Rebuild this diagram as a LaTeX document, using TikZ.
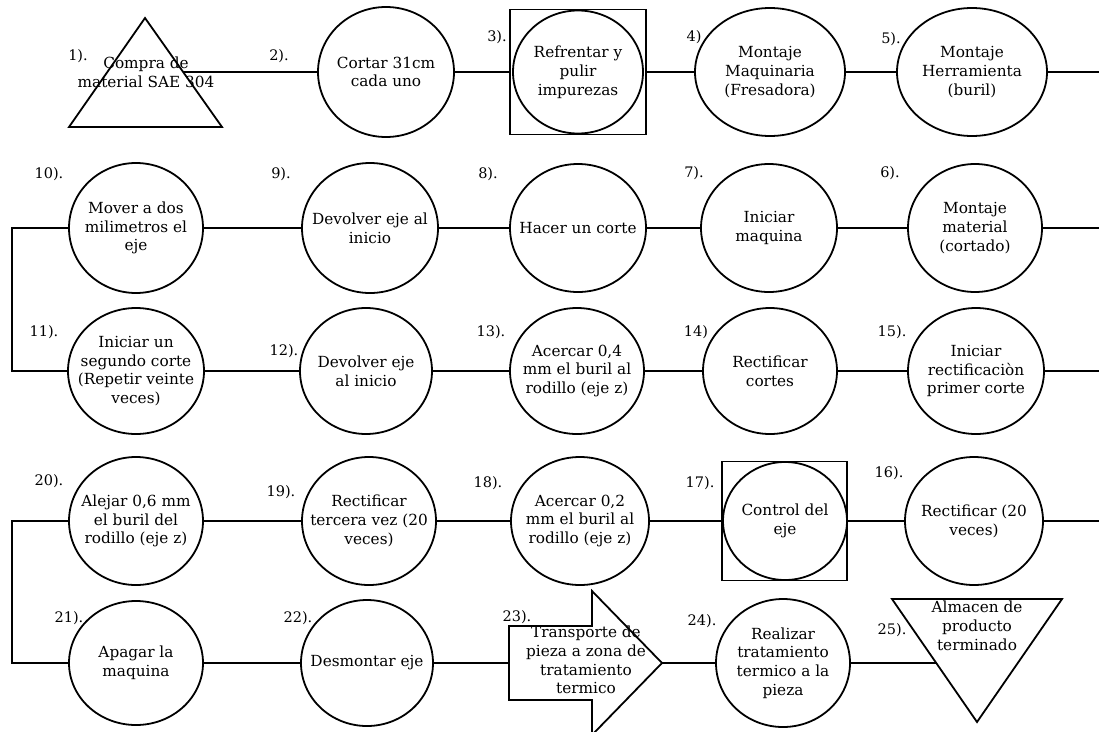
\documentclass[tikz,border=0pt]{standalone}
\usepackage{fontspec}
\setmainfont{DejaVu Serif}
\usetikzlibrary{shapes.geometric}
\tikzset{
  shp/.style={draw, line width=1.8pt, ellipse, inner sep=0pt},
  boxsq/.style={draw, line width=1.8pt, rectangle, inner sep=0pt},
  txt/.style={align=center, font=\fontsize{15.3}{18.8}\selectfont, inner sep=0pt},
  lbl/.style={font=\fontsize{14.5}{17}\selectfont, inner sep=0pt},
  con/.style={line width=1.8pt},
  fig/.style={line width=1.8pt, line join=miter}
}
\newcommand\procnode[5]{%
  \node[shp, minimum width=#3, minimum height=#4] (#1) at (#2) {};
  \node[txt] (#1t) at (#1) {#5};}
\begin{document}
\begin{tikzpicture}[x=1pt,y=-1pt]
\useasboundingbox (0,0) rectangle (1099,731);
% ---------- row 1 ----------
\draw[fig] (145,18) -- (222,127) -- (69,127) -- cycle;
\coordinate (t1r) at (183,72);
\node[txt] (t1t) at (146,72) {Compra de\\material SAE 304};
\procnode{c2}{386,72}{136}{130}{Cortar 31cm\\cada uno}
\node[boxsq, minimum width=136, minimum height=125] (s3) at (578,72) {};
\procnode{c3}{578,72}{130}{123}{Refrentar y\\pulir\\impurezas}
\procnode{c4}{770,72}{150}{128}{Montaje\\Maquinaria\\(Fresadora)}
\procnode{c5}{972,72}{150}{128}{Montaje\\Herramienta\\(buril)}
\coordinate (e1) at (1099,72);
\draw[con] (t1r) -- (c2.west);
\draw[con] (c2.east) -- (s3.west);
\draw[con] (s3.east) -- (c4.west);
\draw[con] (c4.east) -- (c5.west);
\draw[con] (c5.east) -- (e1);
\node[lbl] (l1) at (78,56) {1).};
\node[lbl] (l2) at (279,56) {2).};
\node[lbl] (l3) at (497,37) {3).};
\node[lbl] (l4) at (694,37) {4)};
\node[lbl] (l5) at (891,39) {5).};
% ---------- row 2 ----------
\procnode{c10}{136,228}{134}{130}{Mover a dos\\milimetros el\\eje}
\procnode{c9}{370,228}{136}{130}{Devolver eje al\\inicio}
\procnode{c8}{578,228}{136}{128}{Hacer un corte}
\procnode{c7}{769,228}{136}{128}{Iniciar\\maquina}
\procnode{c6}{975,228}{134}{128}{Montaje\\material\\(cortado)}
\coordinate (e2) at (1099,228);
\draw[con] (e2) -- (c6.east);
\draw[con] (c6.west) -- (c7.east);
\draw[con] (c7.west) -- (c8.east);
\draw[con] (c8.west) -- (c9.east);
\draw[con] (c9.west) -- (c10.east);
\node[lbl] (l10) at (49,174) {10).};
\node[lbl] (l9) at (281,174) {9).};
\node[lbl] (l8) at (488,174) {8).};
\node[lbl] (l7) at (694,173) {7).};
\node[lbl] (l6) at (890,173) {6).};
% ---------- row 3 ----------
\procnode{c11}{136,371}{136}{126}{Iniciar un\\segundo corte\\(Repetir veinte\\veces)}
\procnode{c12}{366,371}{132}{126}{Devolver eje\\al inicio}
\procnode{c13}{577,371}{134}{126}{Acercar 0,4\\mm el buril al\\rodillo (eje z)}
\procnode{c14}{770,371}{134}{126}{Rectificar\\cortes}
\procnode{c15}{976,371}{136}{126}{Iniciar\\rectificaciòn\\primer corte}
\coordinate (k1) at (12,228);
\coordinate (k2) at (12,371);
\draw[con] (c10.west) -- (k1) -- (k2) -- (c11.west);
\coordinate (e3) at (1099,371);
\draw[con] (c11.east) -- (c12.west);
\draw[con] (c12.east) -- (c13.west);
\draw[con] (c13.east) -- (c14.west);
\draw[con] (c14.east) -- (c15.west);
\draw[con] (c15.east) -- (e3);
\node[lbl] (l11) at (44,332) {11).};
\node[lbl] (l12) at (284,351) {12).};
\node[lbl] (l13) at (491,332) {13).};
\node[lbl] (l14) at (696,332) {14)};
\node[lbl] (l15) at (892,332) {15).};
% ---------- row 4 ----------
\procnode{c20}{136,521}{134}{128}{Alejar 0,6 mm\\el buril del\\rodillo (eje z)}
\procnode{c19}{369,521}{134}{128}{Rectificar\\tercera vez (20\\veces)}
\procnode{c18}{580,521}{138}{128}{Acercar 0,2\\mm el buril al\\rodillo (eje z)}
\node[boxsq, minimum width=125, minimum height=119] (s17) at (784.5,521) {};
\procnode{c17}{785,521}{124}{118}{Control del\\eje}
\procnode{c16}{974,521}{138}{128}{Rectificar (20\\veces)}
\coordinate (e4) at (1099,521);
\draw[con] (e4) -- (c16.east);
\draw[con] (c16.west) -- (s17.east);
\draw[con] (s17.west) -- (c18.east);
\draw[con] (c18.west) -- (c19.east);
\draw[con] (c19.west) -- (c20.east);
\node[lbl] (l20) at (49,481) {20).};
\node[lbl] (l19) at (281,492) {19).};
\node[lbl] (l18) at (488,483) {18).};
\node[lbl] (l17) at (700,483) {17).};
\node[lbl] (l16) at (889,473) {16).};
% ---------- row 5 ----------
\procnode{c21}{136,663}{134}{124}{Apagar la\\maquina}
\procnode{c22}{367,663}{132}{126}{Desmontar eje}
\coordinate (k3) at (12,521);
\coordinate (k4) at (12,663);
\draw[con] (c20.west) -- (k3) -- (k4) -- (c21.west);
\draw[fig] (509,626) -- (592,626) -- (592,591) -- (662,663) -- (592,735) -- (592,700) -- (509,700) -- cycle;
\coordinate (a23w) at (509,663);
\coordinate (a23e) at (662,663);
\node[txt] (a23t) at (586,660) {Transporte de\\pieza a zona de\\tratamiento\\termico};
\procnode{c24}{783,663}{134}{128}{Realizar\\tratamiento\\termico a la\\pieza}
\draw[fig] (892,599) -- (1062,599) -- (977,722) -- cycle;
\coordinate (t25l) at (937,663);
\node[txt] (t25t) at (977,626) {Almacen de\\producto\\terminado};
\draw[con] (c21.east) -- (c22.west);
\draw[con] (c22.east) -- (a23w);
\draw[con] (a23e) -- (c24.west);
\draw[con] (c24.east) -- (t25l);
\node[lbl] (l21) at (69,618) {21).};
\node[lbl] (l22) at (298,618) {22).};
\node[lbl] (l23) at (517,617) {23).};
\node[lbl] (l24) at (702,621) {24).};
\node[lbl] (l25) at (892,630) {25).};
\end{tikzpicture}
\end{document}
